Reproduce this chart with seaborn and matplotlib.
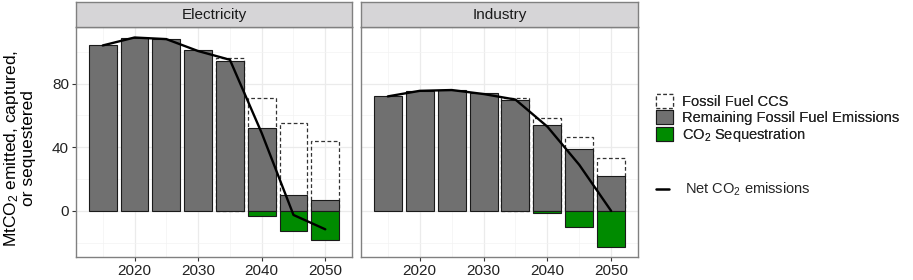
import matplotlib
matplotlib.use("Agg")
import matplotlib.pyplot as plt
from matplotlib.patches import Patch
from matplotlib.lines import Line2D
from matplotlib.ticker import FixedLocator
import seaborn as sns
import pandas as pd

# ---------------- data ----------------
years = [2015, 2020, 2025, 2030, 2035, 2040, 2045, 2050]
sectors = ["Electricity", "Industry"]

elec_remaining = [104, 109, 108, 101, 94, 52, 10, 7]
elec_ccs = [0, 0, 0, 0, 2, 19, 45, 37]
elec_seq = [0, 0, 0, 0, 0, -3, -12.5, -18]
elec_net = [104, 109, 108, 100.5, 95, 49, -2.5, -11.5]

ind_remaining = [72, 75.5, 76, 74, 70, 54, 39, 22]
ind_ccs = [0, 0, 0, 0, 1, 4.5, 7.5, 11]
ind_seq = [0, 0, 0, 0, 0, -1.5, -10, -22.5]
ind_net = [72, 75.5, 76, 73.5, 70, 53, 29, 0]

legend_labels = ["Fossil Fuel CCS", "Remaining Fossil Fuel Emissions",
                 r"CO$_2$ Sequestration"]
line_label = r"Net CO$_2$ emissions"
ylabel = "MtCO$_2$ emitted, captured,\nor sequestered"

# ---------------- style ----------------
sns.set_theme(style="white")
plt.rcParams["font.family"] = ["Liberation Sans", "DejaVu Sans"]
plt.rcParams["mathtext.fontset"] = "custom"
plt.rcParams["mathtext.rm"] = "Liberation Sans"
plt.rcParams["mathtext.it"] = "Liberation Sans:italic"
plt.rcParams["mathtext.default"] = "regular"

GREY = "#707070"
GREEN = "#008B00"
EDGE = "#1a1a1a"
BORDER = "#808080"

W, H = 913, 280
fig = plt.figure(figsize=(W / 100, H / 100), dpi=100)


def fx(px):
    return px / W


def fy(py):
    return 1 - py / H


panels = [(76, 352), (361, 638)]
top_px, bot_px, strip_top = 27, 257, 2
data = {
    "Electricity": (elec_remaining, elec_ccs, elec_seq, elec_net),
    "Industry": (ind_remaining, ind_ccs, ind_seq, ind_net),
}

for i, (sector, (l, r)) in enumerate(zip(sectors, panels)):
    rem, ccs, seq, net = data[sector]
    df = pd.DataFrame({"year": years, "remaining": rem, "ccs": ccs,
                       "seq": seq, "net": net})
    df["ccs_top"] = df["remaining"] + df["ccs"]
    ax = fig.add_axes([fx(l), fy(bot_px), fx(r - l), (bot_px - top_px) / H])

    # dashed CCS (stacked above remaining)
    sub = df[df["ccs"] > 0]
    sns.barplot(data=sub, x="year", y="ccs_top", native_scale=True,
                width=0.88, ax=ax, color="white", fill=False,
                edgecolor="#333333", linestyle=(0, (3, 2)), linewidth=0.9,
                errorbar=None, saturation=1)
    # remaining emissions
    sns.barplot(data=df, x="year", y="remaining", native_scale=True,
                width=0.88, ax=ax, color=GREY, edgecolor=EDGE,
                linewidth=0.8, errorbar=None, saturation=1)
    # sequestration
    sub2 = df[df["seq"] < 0]
    sns.barplot(data=sub2, x="year", y="seq", native_scale=True,
                width=0.88, ax=ax, color=GREEN, edgecolor=EDGE,
                linewidth=0.8, errorbar=None, saturation=1)
    # net line
    sns.lineplot(data=df, x="year", y="net", ax=ax, color="black", lw=1.7)

    ax.set_xlim(2010.8, 2054.2)
    ax.set_ylim(-28.9, 115.6)
    ax.xaxis.set_major_locator(FixedLocator([2020, 2030, 2040, 2050]))
    ax.xaxis.set_minor_locator(FixedLocator([2015, 2025, 2035, 2045]))
    ax.yaxis.set_major_locator(FixedLocator([0, 40, 80]))
    ax.yaxis.set_minor_locator(FixedLocator([-20, 20, 60, 100]))
    ax.set_xticklabels(["2020", "2030", "2040", "2050"])
    ax.grid(which="major", color="#EBEBEB", lw=0.9)
    ax.grid(which="minor", color="#F3F3F3", lw=0.5)
    ax.set_axisbelow(True)
    ax.set_xlabel("")
    ax.set_ylabel("")
    ax.tick_params(axis="both", which="major", length=3, width=0.8,
                   color="#333333", labelsize=11, labelcolor="#222222",
                   pad=2, bottom=True, left=(i == 0))
    ax.tick_params(axis="both", which="minor", length=0)
    if i == 1:
        ax.set_yticklabels([])
    for s in ax.spines.values():
        s.set_color(BORDER)
        s.set_linewidth(1.0)

    # strip
    sax = fig.add_axes([fx(l), fy(top_px), fx(r - l), (top_px - strip_top) / H])
    sax.set_facecolor("#D6D5D7")
    sax.set_xticks([])
    sax.set_yticks([])
    for s in sax.spines.values():
        s.set_color(BORDER)
        s.set_linewidth(1.0)
    sax.text(0.5, 0.48, sector, ha="center", va="center", fontsize=11,
             color="#1a1a1a", transform=sax.transAxes)

# y label
fig.text(fx(19), fy(148), ylabel, rotation=90, ha="center", va="center",
         fontsize=12.5, color="black", multialignment="center",
         linespacing=0.95)

# legends
handles = [
    Patch(facecolor="white", edgecolor="#333333", linestyle=(0, (3, 2)), lw=0.9),
    Patch(facecolor=GREY, edgecolor=EDGE, lw=0.8),
    Patch(facecolor=GREEN, edgecolor=EDGE, lw=0.8),
]
leg1 = fig.legend(handles, legend_labels, loc="upper left",
                  bbox_to_anchor=(fx(656), fy(94)), frameon=False,
                  fontsize=10.5, handlelength=1.15, handleheight=1.15,
                  labelspacing=0.05, handletextpad=0.6, borderpad=0,
                  borderaxespad=0)
fig.add_artist(leg1)
leg2 = fig.legend([Line2D([0], [0], color="black", lw=1.8)], [line_label],
                  loc="upper left", bbox_to_anchor=(fx(656), fy(181)),
                  frameon=False, fontsize=10.5, handlelength=0.9,
                  handletextpad=1.1, borderpad=0, borderaxespad=0)

fig.savefig("out.png", dpi=100)
